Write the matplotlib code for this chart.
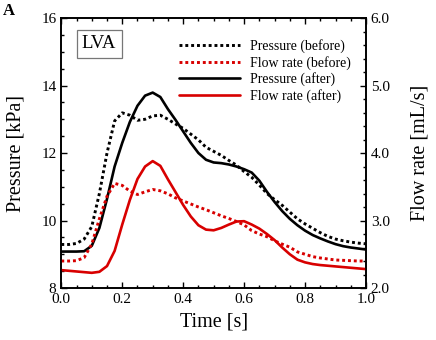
import numpy as np
import matplotlib
matplotlib.use("Agg")
import matplotlib.pyplot as plt
from matplotlib.ticker import MultipleLocator

plt.rcParams["font.family"] = ["Liberation Serif", "DejaVu Serif"]

# --- data (time step 0.025 s) ---
time = np.linspace(0.0, 1.0, 41)

pressure_before = [9.29, 9.29, 9.32, 9.45, 9.82, 10.80, 12.00, 12.95, 13.19, 13.12,
                   12.97, 13.00, 13.10, 13.12, 13.00, 12.86, 12.73, 12.56, 12.39, 12.17,
                   12.05, 11.93, 11.78, 11.64, 11.45, 11.28, 11.05, 10.80, 10.62, 10.45,
                   10.25, 10.05, 9.90, 9.77, 9.64, 9.53, 9.45, 9.40, 9.36, 9.33, 9.31]
pressure_after = [9.08, 9.08, 9.08, 9.09, 9.25, 9.78, 10.64, 11.60, 12.30, 12.92,
                  13.40, 13.70, 13.79, 13.66, 13.30, 12.98, 12.64, 12.30, 12.00, 11.80,
                  11.72, 11.70, 11.66, 11.60, 11.52, 11.42, 11.18, 10.85, 10.55, 10.28,
                  10.05, 9.86, 9.70, 9.57, 9.47, 9.38, 9.30, 9.24, 9.20, 9.17, 9.14]
flow_before = [2.40, 2.40, 2.405, 2.45, 2.65, 3.025, 3.36, 3.55, 3.52, 3.435,
               3.385, 3.425, 3.46, 3.44, 3.395, 3.335, 3.29, 3.245, 3.20, 3.16,
               3.115, 3.07, 3.03, 2.985, 2.935, 2.85, 2.80, 2.76, 2.70, 2.65,
               2.605, 2.535, 2.50, 2.465, 2.445, 2.43, 2.415, 2.41, 2.405, 2.40, 2.40]
flow_after = [2.265, 2.255, 2.245, 2.235, 2.225, 2.24, 2.325, 2.55, 2.94, 3.305,
              3.615, 3.80, 3.88, 3.81, 3.61, 3.42, 3.23, 3.06, 2.93, 2.865,
              2.855, 2.89, 2.94, 2.985, 2.99, 2.94, 2.88, 2.80, 2.71, 2.60,
              2.50, 2.42, 2.38, 2.355, 2.34, 2.33, 2.32, 2.31, 2.30, 2.29, 2.28]

RED = "#d80000"
DOT = (0, (1, 1))

fig = plt.figure(figsize=(4.36, 3.40), dpi=100)
ax = fig.add_axes([0.1406, 0.1529, 0.6988, 0.7941])
ax2 = ax.twinx()

kw = dict(solid_joinstyle="round", solid_capstyle="round")
l1, = ax.plot(time, pressure_before, color="black", lw=2.1, linestyle=DOT,
              label="Pressure (before)")
l3, = ax.plot(time, pressure_after, color="black", lw=1.9, label="Pressure (after)", **kw)
l2, = ax2.plot(time, flow_before, color=RED, lw=2.1, linestyle=DOT,
               label="Flow rate (before)")
l4, = ax2.plot(time, flow_after, color=RED, lw=1.9, label="Flow rate (after)", **kw)

ax.set_xlim(0, 1)
ax.set_ylim(8, 16)
ax2.set_ylim(2, 6)

ax.xaxis.set_major_locator(MultipleLocator(0.2))
ax.xaxis.set_minor_locator(MultipleLocator(0.05))
ax.yaxis.set_major_locator(MultipleLocator(2))
ax.yaxis.set_minor_locator(MultipleLocator(0.5))
ax2.yaxis.set_major_locator(MultipleLocator(1))
ax2.yaxis.set_minor_locator(MultipleLocator(0.2))
ax.xaxis.set_major_formatter(plt.FormatStrFormatter("%.1f"))
ax2.yaxis.set_major_formatter(plt.FormatStrFormatter("%.1f"))

ax.tick_params(which="both", direction="in", top=True, right=False,
               labelsize=11, width=1.0)
ax.tick_params(which="major", length=4)
ax.tick_params(which="minor", length=2.2)
ax2.tick_params(which="both", direction="in", labelsize=11, width=1.0)
ax2.tick_params(which="major", length=4)
ax2.tick_params(which="minor", length=2.2)
for a in (ax, ax2):
    for s in a.spines.values():
        s.set_linewidth(1.2)

ax.set_xlabel("Time [s]", fontsize=14.5, labelpad=5)
ax.set_ylabel("Pressure [kPa]", fontsize=14.5, labelpad=11)
ax2.set_ylabel("Flow rate [mL/s]", fontsize=14.5, labelpad=15)

ax2.text(0.124, 0.904, "LVA", transform=ax.transAxes, fontsize=13.5,
         ha="center", va="center",
         bbox=dict(boxstyle="square,pad=0.28", fc="white", ec="#777777", lw=0.9))

ax2.legend(handles=[l1, l2, l3, l4], loc="upper left",
           bbox_to_anchor=(0.386, 0.922), frameon=False, fontsize=10,
           handlelength=4.4, handletextpad=0.72, labelspacing=0.2,
           borderpad=0, borderaxespad=0)

fig.text(0.007, 0.992, "A", fontsize=12, fontweight="bold", ha="left", va="top")

fig.savefig("out.png", dpi=100)
